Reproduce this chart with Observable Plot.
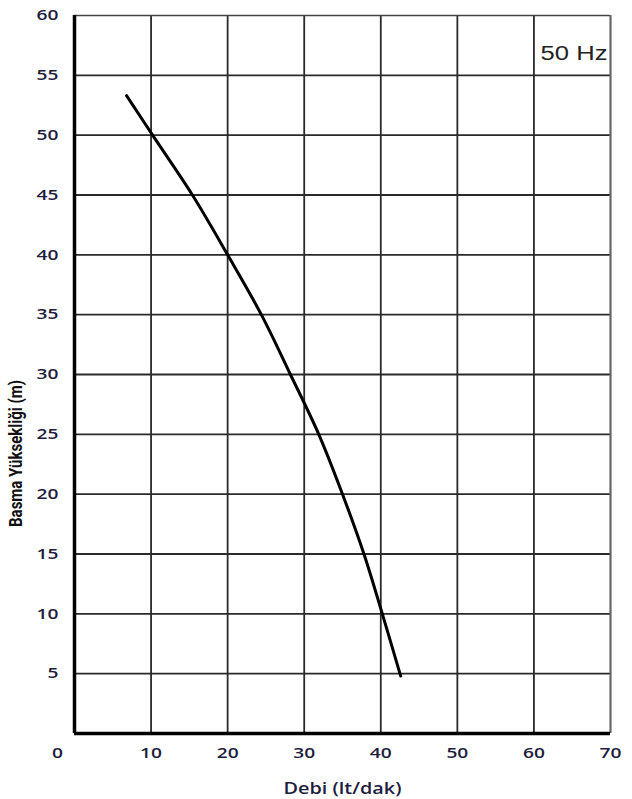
<!DOCTYPE html>
<html>
<head>
<meta charset="utf-8">
<script src="https://cdn.jsdelivr.net/npm/d3@7"></script>
<script src="https://cdn.jsdelivr.net/npm/@observablehq/plot@0.6"></script>
<style>
  body { margin: 0; background: #fff; }
  #chart svg { display: block; }
</style>
</head>
<body>
<div id="chart"></div>
<script>
// Pump curve: flow (lt/dak) vs head (m)
const flow = [6.8, 10.2, 15.4, 20.0, 24.4, 28.2, 31.9, 35.0, 37.8, 40.2, 42.6];
const head = [53.3, 50.0, 45.0, 40.0, 35.0, 30.0, 25.0, 20.0, 15.0, 10.0, 4.8];

const xTickValues = [10, 20, 30, 40, 50, 60, 70];
const xZeroLabel = [0];
const yTickValues = [5, 10, 15, 20, 25, 30, 35, 40, 45, 50, 55, 60];
const xGridValues = [10, 20, 30, 40, 50, 60];
const yGridValues = [5, 10, 15, 20, 25, 30, 35, 40, 45, 50, 55];
const xDomain = [0, 70];
const yDomain = [0, 60];

const freqLabel = "50 Hz";
const xTitle = "Debi (lt/dak)";
const yTitle = "Basma Yüksekliği (m)";

const curve = flow.map((q, i) => ({q, h: head[i]}));

const tickColor = "#1d1d3d";
const tickFont = {fontFamily: "'Open Sans', sans-serif", fontSize: 15, fontWeight: 600};

const chart = Plot.plot({
  width: 632,
  height: 799,
  marginLeft: 74,
  marginRight: 22,
  marginTop: 15,
  marginBottom: 66,
  x: {domain: xDomain},
  y: {domain: yDomain},
  style: {background: "#fff"},
  marks: [
    Plot.gridX(xGridValues, {stroke: "#2a2a2a", strokeOpacity: 1, strokeWidth: 1.8}),
    Plot.gridY(yGridValues, {stroke: "#2a2a2a", strokeOpacity: 1, strokeWidth: 1.8}),
    Plot.ruleY([yDomain[1]], {stroke: "#444", strokeWidth: 1.6}),
    Plot.ruleX([xDomain[1]], {stroke: "#666", strokeWidth: 2.2}),
    Plot.ruleX([xDomain[0]], {stroke: "#000", strokeWidth: 3.5}),
    Plot.ruleY([yDomain[0]], {stroke: "#000", strokeWidth: 3.5}),
    Plot.line(curve, {x: "q", y: "h", curve: "catmull-rom", stroke: "#000", strokeWidth: 3, strokeLinecap: "round"}),
    Plot.axisY(yTickValues, {tickSize: 0, tickPadding: 16, label: null, fill: tickColor, ...tickFont}),
    Plot.axisX(xTickValues, {tickSize: 0, tickPadding: 14, label: null, fill: tickColor, ...tickFont}),
    Plot.text(xZeroLabel, {x: d => d, y: yDomain[0], text: d => String(d), dx: -17, dy: 20, fill: tickColor, ...tickFont}),
    Plot.text([freqLabel], {frameAnchor: "top-right", textAnchor: "end", dx: -3, dy: 30, fill: "#222",
      fontFamily: "'Liberation Sans', Arial, sans-serif", fontSize: 20}),
    Plot.text([xTitle], {frameAnchor: "bottom", dy: 60, fill: tickColor,
      fontFamily: "'Open Sans', sans-serif", fontSize: 15.5, fontWeight: 600}),
    Plot.text([yTitle], {frameAnchor: "left", textAnchor: "middle", rotate: -90, dx: -59, dy: 79, fill: "#111",
      fontFamily: "'Liberation Sans Narrow', 'Roboto', sans-serif", fontSize: 15, fontWeight: 700})
  ]
});

// The reference image is horizontally stretched; widen text glyphs horizontally (on screen) to match.
d3.select(chart).selectAll("text").each(function () {
  const t = this.getAttribute("transform") || "";
  if (!t.includes("translate")) return;
  this.setAttribute("transform", t + (t.includes("rotate") ? " scale(1,1.25)" : " scale(1.28,1)"));
});

document.getElementById("chart").appendChild(chart);
</script>
</body>
</html>
